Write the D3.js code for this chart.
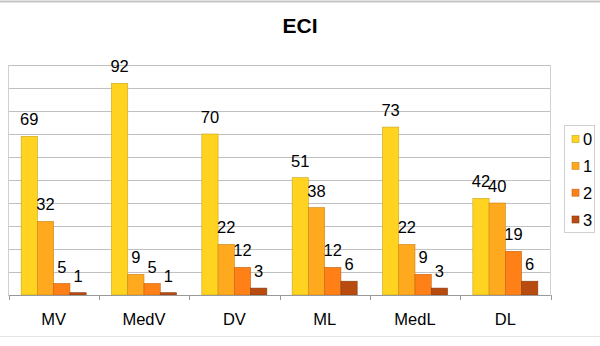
<!DOCTYPE html>
<html><head><meta charset="utf-8">
<script src="https://cdn.jsdelivr.net/npm/d3@7"></script>
<style>body{margin:0;background:#fff}svg{display:block;font-family:"Liberation Sans",Arial,sans-serif}</style>
</head><body><svg id="c" width="600" height="346"></svg>
<script>
const categories = ["MV","MedV","DV","ML","MedL","DL"];
const seriesNames = ["0","1","2","3"];
const values0 = [69,92,70,51,73,42];
const values1 = [32,9,22,38,22,40];
const values2 = [5,5,12,12,9,19];
const values3 = [1,1,3,6,3,6];
const yTicks = [0,10,20,30,40,50,60,70,80,90,100];
const colors = ["#FFD320","#FFAA1E","#FF8016","#B84C10"];
const strokes = ["#C9A416","#C98416","#C96010","#8A3A0C"];

const seriesValues = [values0, values1, values2, values3];
const svg = d3.select("#c");
const L = 8.5, R = 550.5, T = 65, B = 295;
const fs = 16.5;

svg.append("line").attr("x1",0).attr("x2",600).attr("y1",1.5).attr("y2",1.5).attr("stroke","#c4c4c4").attr("stroke-width",2);
svg.append("line").attr("x1",0).attr("x2",600).attr("y1",336.5).attr("y2",336.5).attr("stroke","#e4e4e4").attr("stroke-width",1);

const x0 = d3.scaleBand().domain(categories).range([L, R]).paddingInner(0).paddingOuter(0);
const x1 = d3.scaleBand().domain(seriesNames).range([0, x0.bandwidth()]).paddingInner(0).paddingOuter(0.78);
const y = d3.scaleLinear().domain([0,100]).range([B, T]);

svg.append("g").selectAll("line").data(yTicks.filter(d=>d>0)).join("line")
  .attr("x1",L).attr("x2",R).attr("y1",d=>Math.round(y(d))+0.5).attr("y2",d=>Math.round(y(d))+0.5)
  .attr("stroke","#c0c0c0").attr("stroke-width",1);
svg.append("line").attr("x1",L).attr("x2",L).attr("y1",T).attr("y2",B).attr("stroke","#d0d0d0");
svg.append("line").attr("x1",R).attr("x2",R).attr("y1",T).attr("y2",B).attr("stroke","#d0d0d0");

const groups = svg.append("g").selectAll("g").data(categories).join("g")
  .attr("transform", c => `translate(${x0(c)},0)`);
groups.each(function(c, ci){
  const g = d3.select(this);
  seriesNames.forEach((s, si) => {
    const v = seriesValues[si][ci];
    g.append("rect").attr("x", x1(s)).attr("width", x1.bandwidth())
      .attr("y", y(v)).attr("height", B - y(v))
      .attr("fill", colors[si]).attr("stroke", strokes[si]).attr("stroke-width",0.6);
    g.append("text").attr("x", x1(s) + x1.bandwidth()/2).attr("y", y(v) - 11)
      .attr("text-anchor","middle").attr("font-size",fs).attr("fill","#000").text(v);
  });
});

const xAxis = d3.axisBottom(x0).tickSize(0).tickPadding(0);
const ax = svg.append("g").attr("transform",`translate(0,${B})`).call(xAxis);
ax.select(".domain").attr("stroke","#999").attr("d",`M${L},0.5H${R}`);
ax.selectAll("text").attr("font-size",fs).attr("fill","#000").attr("dy",0).attr("y",30)
  .attr("font-family","Liberation Sans, Arial, sans-serif");
const bounds = categories.map(c => x0(c)).concat([R]);
svg.append("g").selectAll("line").data(bounds).join("line")
  .attr("x1",d=>Math.round(d)+0.5).attr("x2",d=>Math.round(d)+0.5).attr("y1",B).attr("y2",B+5)
  .attr("stroke","#999");

svg.append("text").attr("x",300).attr("y",33).attr("text-anchor","middle")
  .attr("font-size",21).attr("font-weight","bold").attr("fill","#000").text("ECI");

const lg = svg.append("g");
lg.append("rect").attr("x",564.5).attr("y",125.5).attr("width",30).attr("height",107)
  .attr("fill","#fff").attr("stroke","#d0d0d0");
const ly = d3.scalePoint().domain(seriesNames).range([139, 219.5]);
seriesNames.forEach((s, i) => {
  lg.append("rect").attr("x",572).attr("y",ly(s)-3.5).attr("width",7).attr("height",7)
    .attr("fill",colors[i]).attr("stroke",strokes[i]).attr("stroke-width",0.6);
  lg.append("text").attr("x",583).attr("y",ly(s)+6).attr("font-size",fs).attr("fill","#000").text(s);
});
</script></body></html>
